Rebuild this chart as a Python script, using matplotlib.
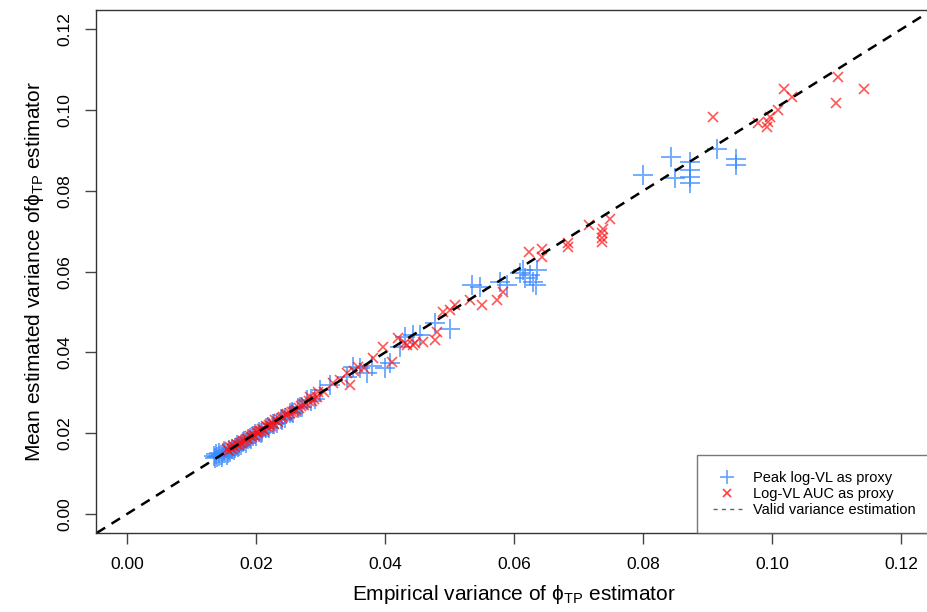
import numpy as np
import matplotlib
matplotlib.use('Agg')
import matplotlib.pyplot as plt
from matplotlib.lines import Line2D

plt.rcParams['font.family'] = ['Liberation Sans', 'DejaVu Sans']
plt.rcParams['mathtext.fontset'] = 'custom'
plt.rcParams['mathtext.rm'] = 'Liberation Sans'
plt.rcParams['mathtext.it'] = 'Liberation Sans:italic'

# Peak log-VL as proxy (blue +)
peak_emp = [
    0.0135, 0.0138, 0.0140, 0.0142, 0.0145, 0.0147, 0.0150, 0.0152, 0.0155, 0.0158,
    0.0160, 0.0163, 0.0166, 0.0170, 0.0172, 0.0176, 0.0180, 0.0184, 0.0188, 0.0192,
    0.0196, 0.0200, 0.0205, 0.0210, 0.0215, 0.0220, 0.0226, 0.0232, 0.0238, 0.0245,
    0.0252, 0.0258, 0.0265, 0.0272, 0.0279, 0.0285, 0.0292, 0.0299, 0.0315, 0.0341,
    0.0350, 0.0361, 0.0372, 0.0380, 0.0400, 0.0408, 0.0423, 0.0431, 0.0443, 0.0454,
    0.0478, 0.0501, 0.0535, 0.0547, 0.0578, 0.0589, 0.0609, 0.0614, 0.0617, 0.0625,
    0.0629, 0.0634, 0.0636, 0.0800, 0.0843, 0.0850, 0.0873, 0.0873, 0.0873, 0.0873,
    0.0915, 0.0944, 0.0944,
    0.0137, 0.0143, 0.0149, 0.0156, 0.0162, 0.0168, 0.0174, 0.0182, 0.0190, 0.0198,
    0.0207, 0.0218, 0.0228, 0.0240, 0.0255, 0.0268,
]
peak_est = [
    0.0143, 0.0148, 0.0140, 0.0152, 0.0146, 0.0141, 0.0155, 0.0150, 0.0147, 0.0158,
    0.0153, 0.0162, 0.0158, 0.0170, 0.0165, 0.0170, 0.0178, 0.0176, 0.0186, 0.0185,
    0.0193, 0.0192, 0.0203, 0.0204, 0.0214, 0.0212, 0.0224, 0.0225, 0.0236, 0.0238,
    0.0250, 0.0249, 0.0262, 0.0265, 0.0282, 0.0280, 0.0286, 0.0307, 0.0319, 0.0339,
    0.0364, 0.0361, 0.0349, 0.0366, 0.0361, 0.0374, 0.0413, 0.0438, 0.0443, 0.0443,
    0.0473, 0.0458, 0.0567, 0.0562, 0.0574, 0.0567, 0.0597, 0.0604, 0.0584, 0.0592,
    0.0574, 0.0567, 0.0604, 0.0839, 0.0884, 0.0832, 0.0871, 0.0851, 0.0834, 0.0819,
    0.0903, 0.0879, 0.0864,
    0.0138, 0.0144, 0.0150, 0.0152, 0.0160, 0.0163, 0.0168, 0.0181, 0.0188, 0.0197,
    0.0201, 0.0215, 0.0222, 0.0234, 0.0252, 0.0266,
]

# Log-VL AUC as proxy (red x)
auc_emp = [
    0.0155, 0.0160, 0.0165, 0.0170, 0.0175, 0.0180, 0.0185, 0.0190, 0.0195, 0.0200,
    0.0205, 0.0210, 0.0215, 0.0220, 0.0225, 0.0230, 0.0236, 0.0242, 0.0248, 0.0255,
    0.0262, 0.0270, 0.0278, 0.0284, 0.0286, 0.0294, 0.0296, 0.0319, 0.0341, 0.0346,
    0.0358, 0.0381, 0.0397, 0.0411, 0.0420, 0.0431, 0.0434, 0.0443, 0.0447, 0.0459,
    0.0478, 0.0481, 0.0490, 0.0501, 0.0509, 0.0532, 0.0550, 0.0574, 0.0583, 0.0623,
    0.0643, 0.0643, 0.0684, 0.0684, 0.0716, 0.0736, 0.0736, 0.0736, 0.0738, 0.0749,
    0.0909, 0.0978, 0.0992, 0.0994, 0.0997, 0.1009, 0.1019, 0.1031, 0.1099, 0.1102,
    0.1143,
    0.0158, 0.0163, 0.0168, 0.0173, 0.0178, 0.0183, 0.0188, 0.0193, 0.0198, 0.0203,
    0.0208, 0.0213, 0.0218, 0.0223, 0.0228, 0.0234, 0.0240, 0.0246, 0.0252, 0.0259,
    0.0266, 0.0274, 0.0282, 0.0290, 0.0305, 0.0330, 0.0352, 0.0368,
]
auc_est = [
    0.0160, 0.0165, 0.0168, 0.0172, 0.0176, 0.0182, 0.0186, 0.0192, 0.0196, 0.0202,
    0.0206, 0.0210, 0.0218, 0.0221, 0.0226, 0.0232, 0.0236, 0.0241, 0.0247, 0.0253,
    0.0258, 0.0268, 0.0274, 0.0290, 0.0281, 0.0290, 0.0302, 0.0324, 0.0349, 0.0319,
    0.0364, 0.0386, 0.0413, 0.0376, 0.0436, 0.0423, 0.0418, 0.0418, 0.0423, 0.0426,
    0.0431, 0.0450, 0.0500, 0.0505, 0.0517, 0.0530, 0.0517, 0.0530, 0.0550, 0.0649,
    0.0656, 0.0636, 0.0671, 0.0661, 0.0715, 0.0696, 0.0683, 0.0673, 0.0705, 0.0730,
    0.0983, 0.0968, 0.0958, 0.0970, 0.0983, 0.1000, 0.1052, 0.1032, 0.1017, 0.1082,
    0.1052,
    0.0156, 0.0161, 0.0165, 0.0170, 0.0175, 0.0180, 0.0185, 0.0190, 0.0194, 0.0200,
    0.0205, 0.0208, 0.0215, 0.0219, 0.0224, 0.0229, 0.0238, 0.0244, 0.0249, 0.0256,
    0.0262, 0.0271, 0.0279, 0.0285, 0.0301, 0.0333, 0.0355, 0.0362,
]

BLUE = '#3a89ff'
RED = '#ff1010'

fig = plt.figure(figsize=(9.27, 6.12), dpi=100)
ax = fig.add_axes([0.1036, 0.1291, 0.9019, 0.8546])

ax.plot(peak_emp, peak_est, linestyle='none', marker='+', markersize=14,
        markeredgewidth=1.4, color=BLUE, alpha=0.7)
ax.plot(auc_emp, auc_est, linestyle='none', marker='x', markersize=7,
        markeredgewidth=1.2, color=RED, alpha=0.7)
ax.axline((0, 0), slope=1, color='black', linestyle=(0, (4, 3)), linewidth=1.8)

ax.set_xlim(-0.0048, 0.1248)
ax.set_ylim(-0.0047, 0.1248)
ticks = np.arange(0, 0.121, 0.02)
ax.set_xticks(ticks)
ax.set_yticks(ticks)
ax.set_xticklabels([f'{t:.2f}' for t in ticks])
ax.set_yticklabels([f'{t:.2f}' for t in ticks], rotation=90, va='center')
ax.tick_params(axis='both', labelsize=12.5, length=8, width=1, color='#444444', pad=9)
for sp in ax.spines.values():
    sp.set_color('#333333')
    sp.set_linewidth(1)

ax.set_xlabel('Empirical variance of \u03d5$_{\\mathrm{TP}}$ estimator', fontsize=15, labelpad=8)
ax.set_ylabel('Mean estimated variance of\u03d5$_{\\mathrm{TP}}$ estimator', fontsize=15, labelpad=8)

handles = [
    Line2D([], [], linestyle='none', marker='+', markersize=10, markeredgewidth=1.2,
           color=BLUE, alpha=0.8),
    Line2D([], [], linestyle='none', marker='x', markersize=6, markeredgewidth=1.2,
           color=RED, alpha=0.8),
    Line2D([], [], color='#666666', linestyle=(0, (3, 3)), linewidth=1),
]
labels = ['Peak log-VL as proxy', 'Log-VL AUC as proxy', 'Valid variance estimation']
leg = ax.legend(handles, labels, loc='lower right', bbox_to_anchor=(1.0, 0.0),
                borderaxespad=0, fontsize=10.5, frameon=True, fancybox=False,
                handlelength=2.0, handletextpad=0.8, labelspacing=0.12,
                borderpad=1.1)
leg.get_frame().set_edgecolor('#555555')
leg.get_frame().set_linewidth(1)

fig.savefig('out.png', dpi=100)
